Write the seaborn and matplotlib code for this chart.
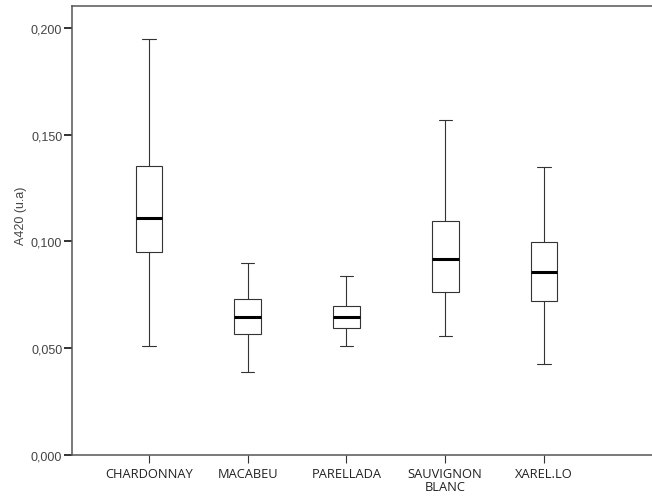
import numpy as np
import pandas as pd
import seaborn as sns
import matplotlib.pyplot as plt

# values (min, Q1, median, Q3, max)
varieties = ["CHARDONNAY", "MACABEU", "PARELLADA", "SAUVIGNON\nBLANC", "XAREL.LO"]
lows = [0.0508, 0.0386, 0.0508, 0.0555, 0.0425]
q1s = [0.0949, 0.0566, 0.0593, 0.0763, 0.0722]
medians = [0.1109, 0.0646, 0.0646, 0.0917, 0.0858]
q3s = [0.1351, 0.0729, 0.0696, 0.1095, 0.0999]
highs = [0.1948, 0.0898, 0.0837, 0.1570, 0.1350]
yticks = [0.0, 0.05, 0.10, 0.15, 0.20]

rows = []
for i, v in enumerate(varieties):
    for val in [lows[i], q1s[i], medians[i], q3s[i], highs[i]]:
        rows.append({"variety": v, "A420": val})
df = pd.DataFrame(rows)

sns.set_style("white")
fig = plt.figure(figsize=(6.52, 5.02), dpi=100)
ax = fig.add_axes([0.1104, 0.0922, 0.895, 0.894])

sns.boxplot(data=df, x="variety", y="A420", order=varieties, ax=ax,
            whis=np.inf, width=0.27, color="white", linecolor="#333333",
            linewidth=0.8, showfliers=False,
            medianprops={"color": "black", "linewidth": 2.2})

ax.set_xlim(-0.78, 5.13)
ax.set_ylim(0, 0.2103)
ax.set_yticks(yticks)
ax.set_yticklabels([f"{t:.3f}".replace(".", ",") for t in yticks],
                   fontsize=9, color="#444444", family="Liberation Sans")
ax.set_xticks(range(len(varieties)))
ax.set_xticklabels(varieties, fontsize=9.3, color="#222222", family="Open Sans",
                   linespacing=0.95)
ax.set_xlabel("")
ax.set_ylabel("A420 (u.a)", fontsize=9, color="#444444", family="Liberation Sans")
ax.yaxis.set_label_coords(-0.0763, 0.534)

ax.tick_params(axis="y", direction="out", length=6, width=1.4, color="#333333", pad=1, left=True)
ax.tick_params(axis="x", direction="out", length=6, width=0.8, color="#333333", pad=3, bottom=True)

for side in ["left", "bottom", "top", "right"]:
    ax.spines[side].set_color("#555555")
    ax.spines[side].set_linewidth(1.1)

plt.savefig("out.png", dpi=100)
